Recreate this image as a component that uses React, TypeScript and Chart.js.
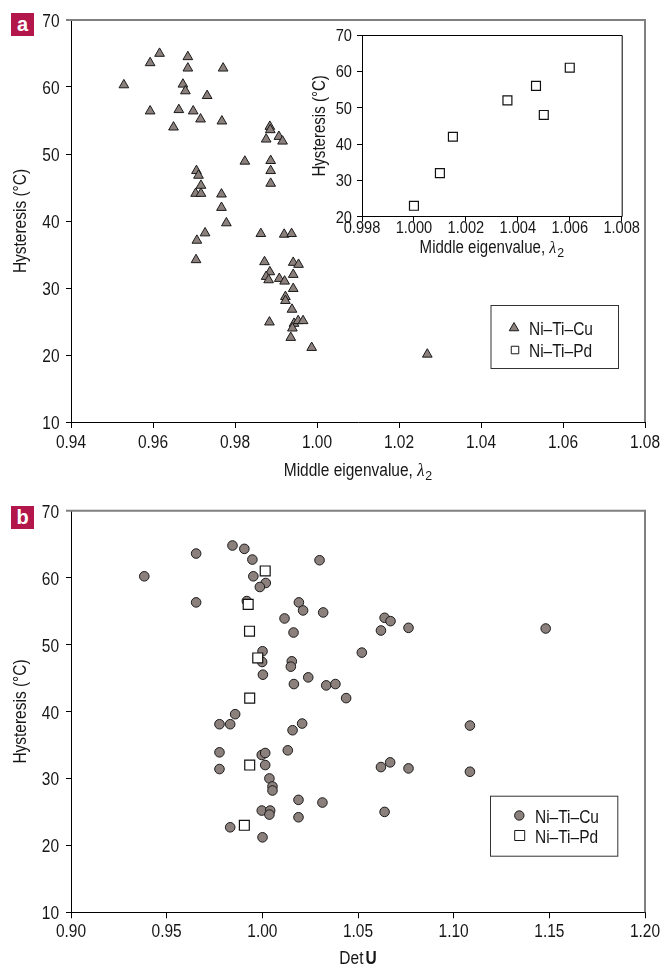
import React, { useEffect, useRef } from 'react';
import { Chart, registerables } from 'chart.js';

Chart.register(...registerables);

const FAMILY = "'Liberation Sans', Arial, sans-serif";
const SERIF = "'Liberation Serif', 'DejaVu Serif', serif";
const SX = 0.86; // horizontal condensing of the sans text
const INK = '#161616';
const MARKER_FILL = '#8c807d';
const MARKER_EDGE = '#1a1a1a';
const FRAME_GRAY = '#808080';
const PANEL_RED = '#b2164a';

const seriesNames = ['Ni–Ti–Cu', 'Ni–Ti–Pd'];
const panelLetters = ['a', 'b'];
const yAxisTitle = 'Hysteresis (°C)';
const xTitleLambda = ['Middle eigenvalue, ', 'λ', '2'];
const xTitleDet = ['Det', 'U'];

// Panel a – Ni–Ti–Cu: middle eigenvalue vs hysteresis
const cuLambda2 = [
  0.9529, 0.9593, 0.9616, 0.9593, 0.9685, 0.9685, 0.9771, 0.9673, 0.9679, 0.9732,
  0.9663, 0.9698, 0.9716, 0.9768, 0.965, 0.9885, 0.9886, 0.9876, 0.9907, 0.9916,
  0.9824, 0.9887, 0.9887, 0.9887, 0.9706, 0.9711, 0.9717, 0.9704, 0.9717, 0.9767,
  0.9767, 0.9779, 0.9727, 0.9707, 0.9705, 0.9863, 0.992, 0.9938, 0.9872, 0.9942,
  0.9955, 0.9885, 0.9942, 0.9876, 0.9882, 0.9908, 0.9921, 0.9942, 0.9923, 0.9923,
  0.9939, 0.9884, 0.9944, 0.9954, 0.9966, 0.994, 0.9936, 0.9987, 1.0269,
];
const cuHysteresisA = [
  60.3, 63.6, 65.0, 56.4, 64.5, 62.8, 62.8, 60.4, 59.4, 58.7,
  56.6, 56.4, 55.2, 54.9, 54.0, 54.1, 53.6, 52.2, 52.6, 51.9,
  48.9, 49.0, 47.5, 45.6, 47.5, 46.8, 45.3, 44.1, 44.1, 44.0,
  42.0, 39.7, 38.2, 37.1, 34.2, 38.1, 38.0, 38.1, 33.9, 33.8,
  33.5, 32.4, 32.0, 31.7, 31.2, 31.4, 31.0, 29.9, 28.7, 28.1,
  26.8, 24.9, 24.7, 25.1, 25.1, 24.0, 22.6, 21.1, 20.1,
];

// Inset – Ni–Ti–Pd
const pdLambda2 = [1.0, 1.001, 1.0015, 1.0036, 1.0047, 1.005, 1.006];
const pdHysteresisInset = [23, 32, 42, 52, 56, 48, 61];

// Panel b – Det U vs hysteresis
const cuDetU = [
  0.9383, 0.9654, 0.9654, 0.9844, 0.9906, 0.9948, 0.9953, 1.0018, 0.9987, 0.9919,
  1.0299, 1.0191, 1.0213, 1.0318, 1.0116, 1.0163, 1.0001, 0.9999, 1.0003, 1.0154,
  1.0149, 1.024, 1.0165, 1.0334, 1.0382, 1.0639, 1.067, 1.062, 1.0764, 1.1481,
  1.052, 1.0438, 0.9858, 0.9776, 0.9832, 1.0158, 1.0208, 0.9776, 0.9997, 1.0015,
  1.0133, 0.9776, 1.0015, 1.062, 1.0668, 1.0037, 1.0053, 1.0053, 1.0189, 1.0314,
  0.9997, 1.0041, 1.0037, 1.0189, 1.0639, 0.9832, 1.0001, 1.1085, 1.0764, 1.1085,
];
const cuHysteresisB = [
  60.2, 63.6, 56.3, 64.8, 64.3, 62.7, 60.2, 59.2, 58.6, 56.5,
  62.6, 56.3, 55.1, 54.8, 53.9, 51.8, 49.0, 47.4, 45.5, 47.5,
  46.7, 45.1, 44.1, 43.9, 44.1, 54.0, 53.5, 52.1, 52.5, 52.4,
  48.8, 42.0, 39.6, 38.1, 38.1, 37.2, 38.2, 33.9, 33.5, 33.8,
  34.2, 31.4, 32.0, 31.7, 32.4, 30.0, 28.8, 28.2, 26.8, 26.4,
  25.2, 25.2, 24.6, 24.2, 25.0, 22.7, 21.2, 37.9, 31.5, 31.0,
];
const pdDetU = [1.0015, 0.9926, 0.9933, 0.9976, 0.9934, 0.9934, 0.9906];
const pdHysteresisB = [61, 56, 52, 48, 42, 32, 23];

// Axis ranges [min, max, step]
const hystRange = [10, 70, 10];
const lambdaRange = [0.94, 1.08, 0.02];
const insetLambdaRange = [0.998, 1.008, 0.002];
const insetHystRange = [20, 70, 10];
const detRange = [0.9, 1.2, 0.05];

const toPoints = (xs: number[], ys: number[]) => xs.map((x, i) => ({ x, y: ys[i] }));

function drawText(
  ctx: CanvasRenderingContext2D,
  text: string,
  x: number,
  y: number,
  size: number,
  align: CanvasTextAlign = 'left',
  style = '',
  rot = 0,
  sx = SX,
  family = FAMILY
) {
  ctx.save();
  ctx.translate(x, y);
  if (rot) ctx.rotate(rot);
  ctx.scale(sx, 1);
  ctx.font = `${style} ${size}px ${family}`.trim();
  ctx.textAlign = align;
  ctx.textBaseline = 'alphabetic';
  ctx.fillStyle = INK;
  ctx.fillText(text, 0, 0);
  ctx.restore();
}

function textWidth(ctx: CanvasRenderingContext2D, text: string, size: number, style = '', sx = SX, family = FAMILY) {
  ctx.save();
  ctx.font = `${style} ${size}px ${family}`.trim();
  const w = ctx.measureText(text).width * sx;
  ctx.restore();
  return w;
}

function axis(o: any) {
  return {
    type: 'linear',
    min: o.range[0],
    max: o.range[1],
    ticks: { stepSize: o.range[2], display: false, autoSkip: false },
    grid: { drawOnChartArea: false, drawTicks: true, tickLength: o.tickLen, color: '#000', lineWidth: 1 },
    border: { display: true, color: '#000', width: 1 },
    title: { display: false },
    afterFit: (s: any) => {
      if (o.axis === 'x') s.height = o.fit;
      else s.width = o.fit;
    },
  };
}

function drawMarker(ctx: CanvasRenderingContext2D, style: string, x: number, y: number, size: number, fill: string) {
  ctx.save();
  ctx.fillStyle = fill;
  ctx.strokeStyle = MARKER_EDGE;
  ctx.lineWidth = 1;
  ctx.beginPath();
  if (style === 'triangle') {
    const h = size * 0.866;
    ctx.moveTo(x, y - (h * 2) / 3);
    ctx.lineTo(x + size / 2, y + h / 3);
    ctx.lineTo(x - size / 2, y + h / 3);
    ctx.closePath();
  } else if (style === 'rect') {
    ctx.rect(x - size / 2, y - size / 2, size, size);
  } else {
    ctx.arc(x, y, size / 2, 0, Math.PI * 2);
  }
  ctx.fill();
  ctx.stroke();
  ctx.restore();
}

function framePlugin(kind: 'main' | 'inset') {
  return {
    id: 'frame' + kind,
    beforeDatasetsDraw(chart: any) {
      const { ctx, chartArea: a } = chart;
      ctx.save();
      if (kind === 'main') {
        ctx.strokeStyle = FRAME_GRAY;
        ctx.lineWidth = 2;
        ctx.beginPath();
        ctx.moveTo(a.left - 5, a.top);
        ctx.lineTo(a.right, a.top);
        ctx.lineTo(a.right, a.bottom);
        ctx.stroke();
      } else {
        ctx.strokeStyle = '#000';
        ctx.lineWidth = 1;
        ctx.beginPath();
        ctx.moveTo(a.left, a.top + 0.5);
        ctx.lineTo(a.right + 0.5, a.top + 0.5);
        ctx.lineTo(a.right + 0.5, a.bottom);
        ctx.stroke();
      }
      ctx.restore();
    },
  };
}

type Seg = { text: string; size: number; style?: string; family?: string; sx?: number; dy?: number; gap?: number };

// Tick labels, axis titles – all drawn as real text on the canvas
function textPlugin(cfg: any) {
  return {
    id: cfg.id,
    afterDraw(chart: any) {
      const { ctx, chartArea: a } = chart;
      const xs = chart.scales.x;
      const ys = chart.scales.y;
      xs.ticks.forEach((t: any) => {
        drawText(ctx, Number(t.value).toFixed(cfg.xDecimals), xs.getPixelForValue(t.value), a.bottom + cfg.xLabelOffset, cfg.tickSize, 'center');
      });
      ys.ticks.forEach((t: any) => {
        drawText(ctx, Number(t.value).toFixed(0), a.left - cfg.yLabelGap, ys.getPixelForValue(t.value) + cfg.yLabelDy, cfg.tickSize, 'right');
      });
      // y title, rotated
      drawText(ctx, yAxisTitle, cfg.yTitleX, (a.top + a.bottom) / 2 + cfg.yTitleDy, cfg.titleSize, 'center', '', -Math.PI / 2);
      // x title from segments
      const segs: Seg[] = cfg.xTitle;
      const widths = segs.map((s) => textWidth(ctx, s.text, s.size, s.style ?? '', s.sx ?? SX, s.family ?? FAMILY) + (s.gap ?? 0));
      const total = widths.reduce((p, c) => p + c, 0);
      let x = (a.left + a.right) / 2 - total / 2;
      segs.forEach((s, i) => {
        drawText(ctx, s.text, x, cfg.xTitleBaseline + (s.dy ?? 0), s.size, 'left', s.style ?? '', 0, s.sx ?? SX, s.family ?? FAMILY);
        x += widths[i];
      });
    },
  };
}

function legendPlugin(id: string, cfg: any) {
  return {
    id,
    afterDraw(chart: any) {
      const { ctx } = chart;
      ctx.save();
      ctx.fillStyle = '#fff';
      ctx.fillRect(cfg.box[0], cfg.box[1], cfg.box[2], cfg.box[3]);
      ctx.strokeStyle = '#333';
      ctx.lineWidth = 1;
      ctx.strokeRect(cfg.box[0] + 0.5, cfg.box[1] + 0.5, cfg.box[2], cfg.box[3]);
      ctx.restore();
      cfg.items.forEach((it: any, i: number) => {
        drawMarker(ctx, it.style, it.mx, cfg.rows[i] + (it.my ?? 0), it.size, it.fill);
        drawText(ctx, it.label, cfg.textX, cfg.rows[i] + 6.5, 18, 'left');
      });
    },
  };
}

const lambdaTitle = (size: number): Seg[] => [
  { text: xTitleLambda[0], size },
  { text: xTitleLambda[1], size, style: 'italic', family: SERIF, sx: 0.92, gap: 1 },
  { text: xTitleLambda[2], size: 13, sx: 0.95, dy: 4 },
];

const baseOptions = (padding: any, scales: any) => ({
  animation: false,
  responsive: false,
  devicePixelRatio: 1,
  layout: { padding },
  plugins: { legend: { display: false }, tooltip: { enabled: false } },
  scales,
});

function buildPanelA() {
  return {
    type: 'scatter',
    data: {
      datasets: [
        {
          label: seriesNames[0],
          data: toPoints(cuLambda2, cuHysteresisA),
          pointStyle: 'triangle',
          pointRadius: 5.6,
          backgroundColor: MARKER_FILL,
          borderColor: MARKER_EDGE,
          borderWidth: 1,
        },
      ],
    },
    options: baseOptions(
      { left: 0, top: 20, right: 19, bottom: 38 },
      {
        x: axis({ axis: 'x', range: lambdaRange, tickLen: 6, fit: 30 }),
        y: axis({ axis: 'y', range: hystRange, tickLen: 5, fit: 71 }),
      }
    ),
    plugins: [
      framePlugin('main'),
      textPlugin({
        id: 'textA',
        xDecimals: 2,
        tickSize: 18,
        titleSize: 18,
        xLabelOffset: 26.3,
        yLabelGap: 11.5,
        yLabelDy: 7,
        yTitleX: 26,
        yTitleDy: 0,
        xTitle: lambdaTitle(18),
        xTitleBaseline: 476,
      }),
      legendPlugin('legendA', {
        box: [490.5, 305, 127.5, 63],
        rows: [328, 350],
        textX: 529,
        items: [
          { label: seriesNames[0], style: 'triangle', mx: 514, my: 0, size: 9.5, fill: MARKER_FILL },
          { label: seriesNames[1], style: 'rect', mx: 515, my: 0, size: 7.5, fill: '#fff' },
        ],
      }),
    ],
  };
}

function buildInset() {
  return {
    type: 'scatter',
    data: {
      datasets: [
        {
          label: seriesNames[1],
          data: toPoints(pdLambda2, pdHysteresisInset),
          pointStyle: 'rect',
          pointRadius: 6.3,
          backgroundColor: '#fff',
          borderColor: '#111',
          borderWidth: 1.2,
        },
      ],
    },
    options: baseOptions(
      { left: 0, top: 10, right: 23.3, bottom: 20.3 },
      {
        x: axis({ axis: 'x', range: insetLambdaRange, tickLen: 5, fit: 28 }),
        y: axis({ axis: 'y', range: insetHystRange, tickLen: 5, fit: 72 }),
      }
    ),
    plugins: [
      framePlugin('inset'),
      textPlugin({
        id: 'textInset',
        xDecimals: 3,
        tickSize: 17,
        titleSize: 17.5,
        xLabelOffset: 16.6,
        yLabelGap: 10,
        yLabelDy: 6,
        yTitleX: 35,
        yTitleDy: 0,
        xTitle: lambdaTitle(17.5),
        xTitleBaseline: 228.3,
      }),
    ],
  };
}

function buildPanelB() {
  return {
    type: 'scatter',
    data: {
      datasets: [
        {
          label: seriesNames[0],
          data: toPoints(cuDetU, cuHysteresisB),
          pointStyle: 'circle',
          pointRadius: 4.8,
          backgroundColor: MARKER_FILL,
          borderColor: MARKER_EDGE,
          borderWidth: 1,
          order: 2,
        },
        {
          label: seriesNames[1],
          data: toPoints(pdDetU, pdHysteresisB),
          pointStyle: 'rect',
          pointRadius: 7,
          backgroundColor: '#fff',
          borderColor: '#111',
          borderWidth: 1.2,
          order: 1,
        },
      ],
    },
    options: baseOptions(
      { left: 0, top: 20.7, right: 19, bottom: 22.7 },
      {
        x: axis({ axis: 'x', range: detRange, tickLen: 6, fit: 30 }),
        y: axis({ axis: 'y', range: hystRange, tickLen: 5, fit: 71 }),
      }
    ),
    plugins: [
      framePlugin('main'),
      textPlugin({
        id: 'textB',
        xDecimals: 2,
        tickSize: 18,
        titleSize: 18,
        xLabelOffset: 24.5,
        yLabelGap: 12,
        yLabelDy: 7,
        yTitleX: 26,
        yTitleDy: 0,
        xTitle: [
          { text: xTitleDet[0], size: 18, gap: 2 },
          { text: xTitleDet[1], size: 18, style: 'bold' },
        ],
        xTitleBaseline: 474,
      }),
      legendPlugin('legendB', {
        box: [490, 305.7, 127.3, 60],
        rows: [326, 346],
        textX: 535,
        items: [
          { label: seriesNames[0], style: 'circle', mx: 519.3, my: -0.5, size: 9.4, fill: MARKER_FILL },
          { label: seriesNames[1], style: 'rect', mx: 519.7, my: -0.5, size: 10, fill: '#fff' },
        ],
      }),
    ],
  };
}

function ChartCanvas(props: { left: number; top: number; width: number; height: number; build: () => any }) {
  const ref = useRef<HTMLCanvasElement>(null);
  useEffect(() => {
    const chart = new Chart(ref.current as HTMLCanvasElement, props.build());
    return () => chart.destroy();
  }, []);
  return (
    <canvas
      ref={ref}
      width={props.width}
      height={props.height}
      style={{ position: 'absolute', left: props.left, top: props.top, width: props.width, height: props.height }}
    />
  );
}

function PanelLetter(props: { letter: string; top: number }) {
  return (
    <div
      style={{
        position: 'absolute',
        left: 11,
        top: props.top,
        width: 23,
        height: 23,
        background: PANEL_RED,
        color: '#fff',
        fontFamily: FAMILY,
        fontWeight: 'bold',
        fontSize: 20,
        lineHeight: '22px',
        textAlign: 'center',
      }}
    >
      {props.letter}
    </div>
  );
}

export default function App() {
  return (
    <div style={{ position: 'absolute', left: 0, top: 0, width: 664, height: 965, background: '#fff', overflow: 'hidden' }}>
      <ChartCanvas left={0} top={0} width={664} height={490} build={buildPanelA} />
      <ChartCanvas left={290} top={25} width={355} height={240} build={buildInset} />
      <ChartCanvas left={0} top={490} width={664} height={475} build={buildPanelB} />
      <PanelLetter letter={panelLetters[0]} top={13} />
      <PanelLetter letter={panelLetters[1]} top={506} />
    </div>
  );
}
